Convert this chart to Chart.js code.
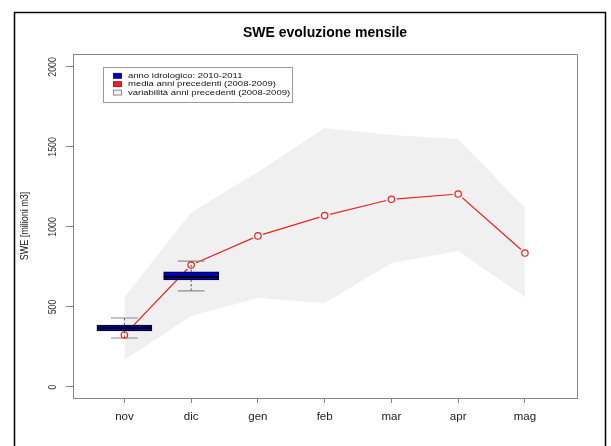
<!DOCTYPE html>
<html>
<head>
<meta charset="utf-8">
<title>SWE evoluzione mensile</title>
<script src="https://cdn.jsdelivr.net/npm/chart.js@4.4.1/dist/chart.umd.min.js"></script>
<style>
  html, body { margin: 0; padding: 0; background: #ffffff; }
  canvas { display: block; }
</style>
</head>
<body>
<canvas id="swe" width="611" height="446"></canvas>
<script>
// Months of the hydrological year
const months = ['nov', 'dic', 'gen', 'feb', 'mar', 'apr', 'mag'];
const yTickValues = [0, 500, 1000, 1500, 2000];

// Mean of previous years (2008-2009), milioni m3
const meanPrev = [325, 762, 944, 1071, 1173, 1206, 837];
// Range of previous years (2008-2009)
const bandHigh = [560, 1090, 1344, 1619, 1575, 1550, 1119];
const bandLow  = [169, 444, 556, 525, 775, 850, 562];

// Current year 2010-2011: box statistics per available month
const boxMonthIndex = [0, 1];
const boxLow    = [306, 600];
const boxQ1     = [350, 669];
const boxMedian = [369, 688];
const boxQ3     = [387, 719];
const boxHigh   = [431, 787];

const legendLabels = [
  'anno idrologico: 2010-2011',
  'media anni precedenti (2008-2009)',
  'variabilità anni precedenti (2008-2009)'
];
const chartTitle = 'SWE evoluzione mensile';
const yTitle = 'SWE [milioni m3]';

const FONT = "'Liberation Sans', Arial, Helvetica, sans-serif";
const AXIS_GREY = '#858585';
const RED = '#ee2020';
const BLUE = '#0000cc';
const BAND = '#f0f0f0';
const BOX_HALF = 0.41;   // half width of a box, in month units
const CAP_HALF = 0.2;    // half width of a whisker cap, in month units
const POINT_GAP = 5.5;   // gap left in the line around each open circle, px

const MEAN_LINE_INDEX = 2;

// Helper datasets for the box plots (segments separated by gaps)
const whiskerPts = [];
const capPts = [];
const medianPts = [];
boxMonthIndex.forEach((m, i) => {
  whiskerPts.push({x: m, y: boxLow[i]}, {x: m, y: boxQ1[i]}, {x: m, y: null},
                  {x: m, y: boxQ3[i]}, {x: m, y: boxHigh[i]}, {x: m, y: null});
  capPts.push({x: m - CAP_HALF, y: boxHigh[i]}, {x: m + CAP_HALF, y: boxHigh[i]}, {x: m, y: null},
              {x: m - CAP_HALF, y: boxLow[i]}, {x: m + CAP_HALF, y: boxLow[i]}, {x: m, y: null});
  medianPts.push({x: m - BOX_HALF, y: boxMedian[i]}, {x: m + BOX_HALF, y: boxMedian[i]}, {x: m, y: null});
});

const asPoints = arr => arr.map((v, i) => ({x: i, y: v}));

// Frame, title, rotated y labels, legend, and the gaps of the "b"-style line
const decorations = {
  id: 'decorations',
  beforeDraw(chart) {
    const ctx = chart.ctx;
    ctx.save();
    ctx.fillStyle = '#ffffff';
    ctx.fillRect(0, 0, chart.width, chart.height);
    ctx.restore();
  },
  beforeDatasetDraw(chart, args) {
    if (args.index !== MEAN_LINE_INDEX) return;
    const ctx = chart.ctx;
    ctx.save();
    ctx.beginPath();
    ctx.rect(0, 0, chart.width, chart.height);
    args.meta.data.forEach(p => {
      ctx.moveTo(p.x + POINT_GAP, p.y);
      ctx.arc(p.x, p.y, POINT_GAP, 0, Math.PI * 2);
    });
    ctx.clip('evenodd');
  },
  afterDatasetDraw(chart, args) {
    if (args.index === MEAN_LINE_INDEX) chart.ctx.restore();
  },
  afterDraw(chart) {
    const ctx = chart.ctx;
    const a = chart.chartArea;
    const ys = chart.scales.y;

    // top and right sides of the plot box
    ctx.save();
    ctx.strokeStyle = AXIS_GREY;
    ctx.lineWidth = 1;
    ctx.beginPath();
    ctx.moveTo(Math.round(a.left) + 0.5, Math.round(a.top) + 0.5);
    ctx.lineTo(Math.round(a.right) + 0.5, Math.round(a.top) + 0.5);
    ctx.lineTo(Math.round(a.right) + 0.5, Math.round(a.bottom) + 0.5);
    ctx.stroke();

    // outer frame
    ctx.strokeStyle = '#000000';
    ctx.lineWidth = 1.5;
    ctx.beginPath();
    ctx.moveTo(14.5, chart.height + 5);
    ctx.lineTo(14.5, 12.5);
    ctx.lineTo(605.5, 12.5);
    ctx.lineTo(605.5, chart.height + 5);
    ctx.stroke();

    // title
    ctx.fillStyle = '#000000';
    ctx.font = 'bold 14px ' + FONT;
    ctx.textAlign = 'center';
    ctx.textBaseline = 'middle';
    ctx.fillText(chartTitle, (a.left + a.right) / 2, 33);

    // y tick labels, written along the axis
    ctx.fillStyle = '#333333';
    ctx.font = '11px ' + FONT;
    yTickValues.forEach(v => {
      const py = ys.getPixelForValue(v);
      ctx.save();
      ctx.translate(52.5, py);
      ctx.rotate(-Math.PI / 2);
      ctx.scale(0.8, 1);
      ctx.fillText(String(v), 0, 0);
      ctx.restore();
    });

    // y axis title
    ctx.save();
    ctx.font = '11px ' + FONT;
    ctx.fillStyle = '#222222';
    ctx.translate(25, (a.top + a.bottom) / 2);
    ctx.rotate(-Math.PI / 2);
    ctx.scale(0.82, 1);
    ctx.fillText(yTitle, 0, 0);
    ctx.restore();

    // legend
    const lx = 103.5, ly = 67.5, lw = 189, lh = 35;
    ctx.strokeStyle = '#9a9a9a';
    ctx.lineWidth = 1;
    ctx.fillStyle = '#ffffff';
    ctx.fillRect(lx, ly, lw, lh);
    ctx.strokeRect(lx, ly, lw, lh);
    const rows = [75.8, 84.2, 92.6];
    const fills = [BLUE, RED, BAND];
    const edges = ['#000060', '#a00000', '#777777'];
    rows.forEach((ry, i) => {
      ctx.fillStyle = fills[i];
      ctx.fillRect(113.5, ry - 2.5, 8, 5);
      ctx.strokeStyle = edges[i];
      ctx.lineWidth = 0.8;
      ctx.strokeRect(113.5, ry - 2.5, 8, 5);
      ctx.save();
      ctx.translate(128, ry);
      ctx.scale(1, 0.8);
      ctx.fillStyle = '#111111';
      ctx.font = '9.5px ' + FONT;
      ctx.textAlign = 'left';
      ctx.textBaseline = 'middle';
      ctx.fillText(legendLabels[i], 0, 0);
      ctx.restore();
    });
    ctx.restore();
  }
};

new Chart(document.getElementById('swe'), {
  type: 'line',
  data: {
    datasets: [
      { // 0: upper edge of the variability band, filled down to the lower edge
        label: legendLabels[2],
        data: asPoints(bandHigh),
        borderColor: 'rgba(0,0,0,0)',
        borderWidth: 0,
        backgroundColor: BAND,
        pointRadius: 0,
        fill: '+1',
        order: 10
      },
      { // 1: lower edge of the variability band
        label: 'band low',
        data: asPoints(bandLow),
        borderColor: 'rgba(0,0,0,0)',
        borderWidth: 0,
        pointRadius: 0,
        fill: false,
        order: 9
      },
      { // 2: mean of previous years
        label: legendLabels[1],
        data: asPoints(meanPrev),
        borderColor: RED,
        borderWidth: 1.2,
        pointRadius: 0,
        fill: false,
        order: 8
      },
      { // 3: boxes of the current year
        type: 'bar',
        label: legendLabels[0],
        data: boxMonthIndex.map((m, i) => ({x: m, y: [boxQ1[i], boxQ3[i]]})),
        backgroundColor: BLUE,
        borderColor: '#000000',
        borderWidth: 1,
        borderSkipped: false,
        barThickness: 55,
        grouped: false,
        order: 7
      },
      { // 4: dashed whiskers
        label: 'whiskers',
        data: whiskerPts,
        borderColor: '#555555',
        borderWidth: 1,
        borderDash: [2.5, 2],
        pointRadius: 0,
        spanGaps: false,
        fill: false,
        order: 6
      },
      { // 5: whisker caps
        label: 'caps',
        data: capPts,
        borderColor: '#8a8a8a',
        borderWidth: 1.2,
        pointRadius: 0,
        spanGaps: false,
        fill: false,
        order: 5
      },
      { // 6: medians
        label: 'medians',
        data: medianPts,
        borderColor: '#000000',
        borderWidth: 2.2,
        pointRadius: 0,
        spanGaps: false,
        fill: false,
        order: 4
      },
      { // 7: open circles of the mean
        label: 'mean points',
        data: asPoints(meanPrev),
        showLine: false,
        pointRadius: 3.2,
        pointStyle: 'circle',
        pointBorderColor: RED,
        pointBackgroundColor: 'rgba(0,0,0,0)',
        pointBorderWidth: 1.2,
        fill: false,
        order: 3
      }
    ]
  },
  options: {
    responsive: false,
    devicePixelRatio: 1,
    animation: false,
    events: [],
    layout: { padding: { top: 54, right: 34, bottom: 0, left: 0 } },
    plugins: {
      legend: { display: false },
      tooltip: { enabled: false },
      title: { display: false }
    },
    scales: {
      x: {
        type: 'linear',
        min: -0.77,
        max: 6.78,
        offset: false,
        afterBuildTicks: s => { s.ticks = months.map((m, i) => ({value: i})); },
        afterFit: s => { s.height = 48; },
        ticks: {
          autoSkip: false,
          maxRotation: 0,
          padding: 7,
          color: '#222222',
          font: { family: FONT, size: 11.5 },
          callback: v => months[v]
        },
        grid: { offset: false, drawOnChartArea: false, drawTicks: true, tickLength: 5, tickColor: AXIS_GREY },
        border: { display: true, color: AXIS_GREY, width: 1 }
      },
      y: {
        type: 'linear',
        min: -69,
        max: 2081,
        afterBuildTicks: s => { s.ticks = yTickValues.map(v => ({value: v})); },
        afterFit: s => { s.width = 73; },
        ticks: { display: false },
        grid: { offset: false, drawOnChartArea: false, drawTicks: true, tickLength: 7, tickColor: AXIS_GREY },
        border: { display: true, color: AXIS_GREY, width: 1 }
      }
    }
  },
  plugins: [decorations]
});
</script>
</body>
</html>
